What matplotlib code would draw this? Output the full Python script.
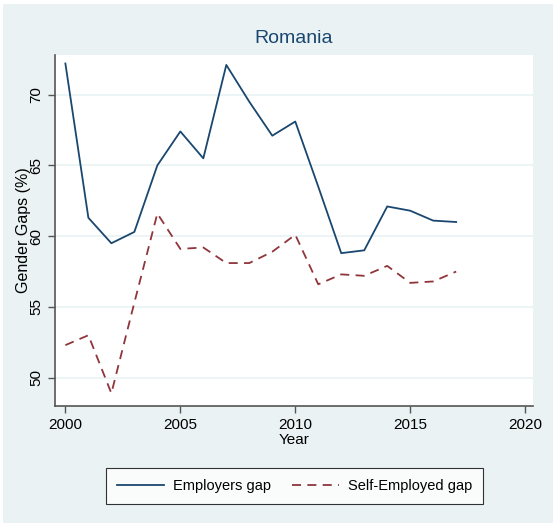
import matplotlib.pyplot as plt
from matplotlib.patches import Rectangle

years = list(range(2000, 2018))
employers_gap = [72.2, 61.3, 59.5, 60.3, 65.0, 67.4, 65.5, 72.1, 69.5, 67.1, 68.1,
                 63.5, 58.8, 59.0, 62.1, 61.8, 61.1, 61.0]
self_employed_gap = [52.3, 53.0, 48.9, 55.3, 61.6, 59.1, 59.2, 58.1, 58.1, 58.9, 60.1,
                     56.6, 57.3, 57.2, 57.9, 56.7, 56.8, 57.5]
x_ticks = [2000, 2005, 2010, 2015, 2020]
y_ticks = [50, 55, 60, 65, 70]

bg = "#EAF2F3"
navy = "#1A476F"
maroon = "#90353B"
plt.rcParams["font.family"] = ["Liberation Sans", "DejaVu Sans"]

fig = plt.figure(figsize=(5.56, 5.27), dpi=100, facecolor="white")
fig.patches.append(Rectangle((3 / 556, 4 / 527), 550 / 556, 519 / 527,
                             transform=fig.transFigure, facecolor=bg,
                             edgecolor="none", zorder=-1))

ax = fig.add_axes([0.099, 0.2296, 0.86, 0.666])
ax.set_facecolor("white")
ax.plot(years, employers_gap, color=navy, lw=1.3, label="Employers gap")
ax.plot(years, self_employed_gap, color=maroon, lw=1.3, ls=(0, (5, 3.5)),
        label="Self-Employed gap")

ax.set_xlim(1999.55, 2020.35)
ax.set_ylim(48.0, 72.8)
ax.set_xticks(x_ticks)
ax.set_yticks(y_ticks)
ax.set_yticklabels([str(v) for v in y_ticks], rotation=90, va="center")
ax.grid(axis="y", color=bg, lw=1.2)
ax.set_axisbelow(True)
for s in ["top", "right"]:
    ax.spines[s].set_visible(False)
for s in ["left", "bottom"]:
    ax.spines[s].set_color("#555555")
    ax.spines[s].set_linewidth(1.2)
ax.tick_params(colors="#555555", labelcolor="black", labelsize=11, length=5, width=1)

ax.set_xlabel("Year", fontsize=11, labelpad=1)
ax.set_ylabel("Gender Gaps (%)", fontsize=11.5, labelpad=-1)
ax.set_title("Romania", color=navy, fontsize=14, pad=9)

leg = fig.legend(loc="center", bbox_to_anchor=(0.53, 0.078), ncol=2, fontsize=10.5,
                 frameon=True, fancybox=False, edgecolor="black", handlelength=3.2,
                 handletextpad=0.6, columnspacing=1.5, borderpad=0.75,
                 borderaxespad=0)
leg.get_frame().set_linewidth(0.8)

fig.savefig("out.png", dpi=100, facecolor=fig.get_facecolor())
